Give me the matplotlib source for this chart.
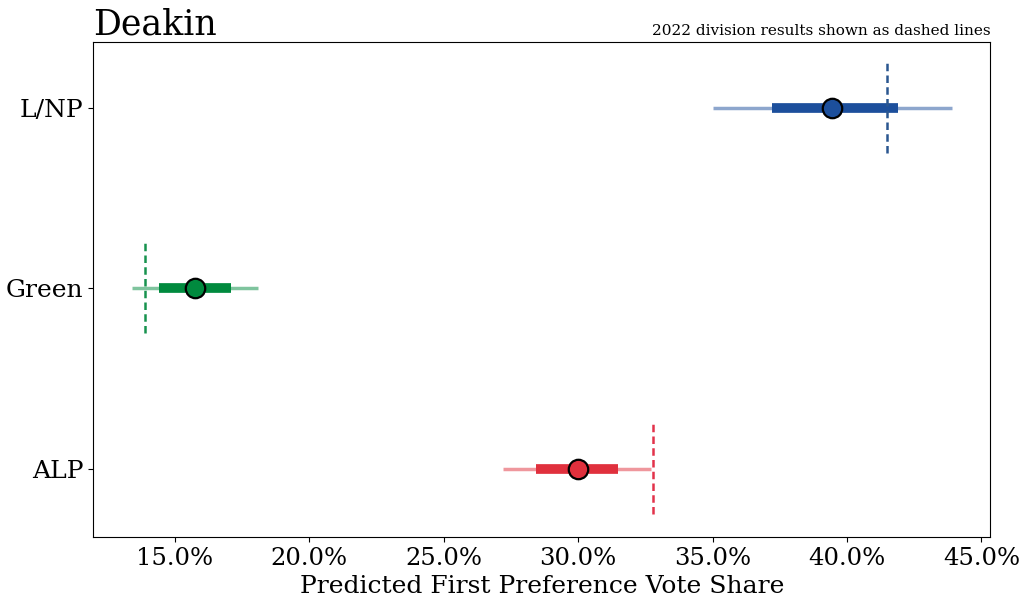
import numpy as np
import matplotlib.pyplot as plt

plt.rcParams['font.family'] = 'DejaVu Serif'

parties = ['ALP', 'Green', 'L/NP']
colors = ['#e0303d', '#008a3e', '#1c4f9c']
dash_colors = ['#e2324a', '#17924e', '#2a5690']
median = [30.0, 15.75, 39.45]
inner_lo = [28.45, 14.4, 37.2]
inner_hi = [31.5, 17.1, 41.9]
outer_lo = [27.2, 13.4, 35.0]
outer_hi = [32.7, 18.1, 43.9]
result_2022 = [32.8, 13.9, 41.5]

fig, ax = plt.subplots(figsize=(10.24, 6.06), dpi=100)

for i, p in enumerate(parties):
    c = colors[i]
    ax.plot([outer_lo[i], outer_hi[i]], [i, i], color=c, alpha=0.5, lw=2.5, solid_capstyle='butt', zorder=1)
    ax.plot([inner_lo[i], inner_hi[i]], [i, i], color=c, lw=7, solid_capstyle='butt', zorder=2)
    ax.plot([result_2022[i]] * 2, [i - 0.25, i + 0.25], color=dash_colors[i], lw=1.8, ls=(0, (3, 1.7)), zorder=3)
    ax.plot(median[i], i, 'o', color=c, markersize=14, markeredgecolor='black', markeredgewidth=1.6, zorder=4)

ax.set_yticks(range(len(parties)))
ax.set_yticklabels(parties, fontsize=18)
ax.set_ylim(-0.38, 2.37)
ax.set_xlim(11.96, 45.33)
ax.set_xticks([15, 20, 25, 30, 35, 40, 45])
ax.set_xticklabels([f'{v:.1f}%' for v in [15, 20, 25, 30, 35, 40, 45]], fontsize=17.5)
ax.set_xlabel('Predicted First Preference Vote Share', fontsize=18)
ax.set_title('Deakin', loc='left', fontsize=25, pad=2)
ax.set_title('2022 division results shown as dashed lines', loc='right', fontsize=11, pad=3)

plt.subplots_adjust(left=0.091, right=0.967, top=0.931, bottom=0.114)
plt.savefig('out.png', dpi=100)
